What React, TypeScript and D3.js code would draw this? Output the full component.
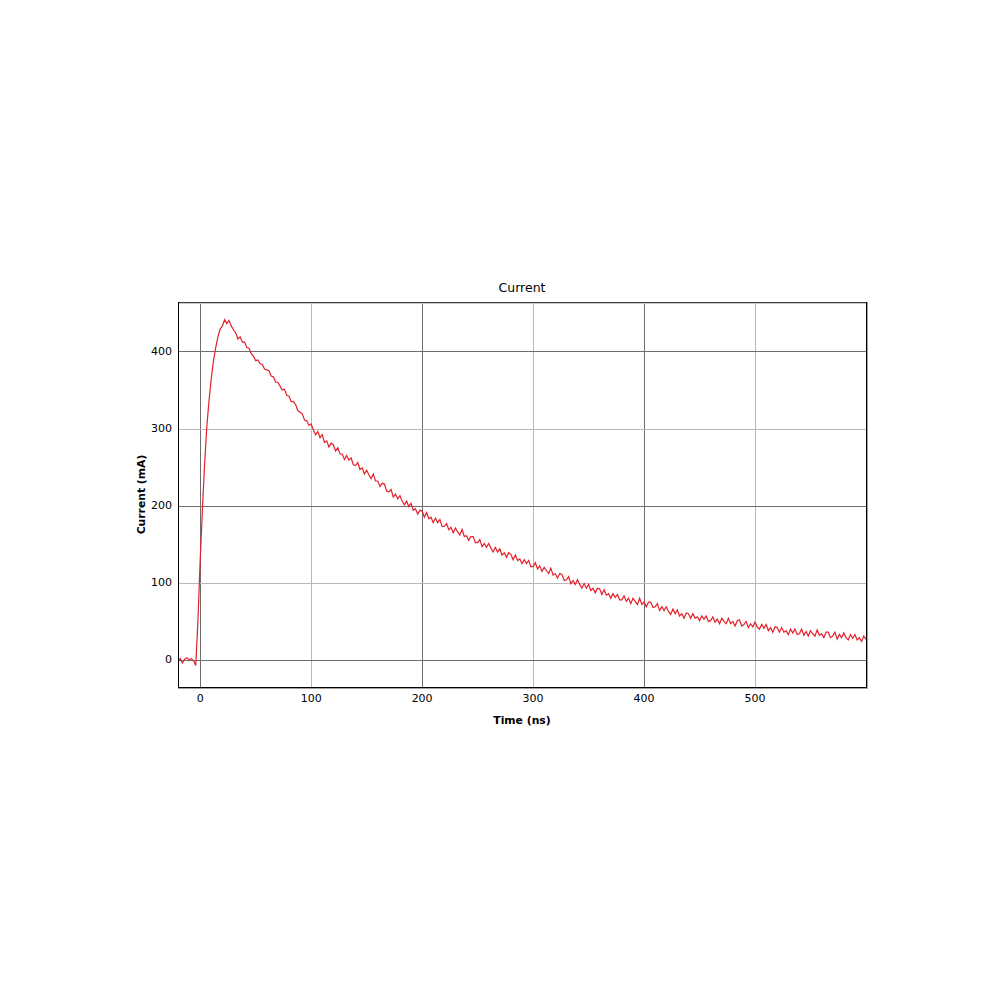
import React from "react";
import * as d3 from "d3";

// Time axis sampling (ns)
const T_START = -20;
const T_STEP = 2;

// Current (mA) read every 2 ns from -20 ns to 600 ns
const currentValues: number[] = [
  -3, 2, -4, 1, 3, 0, 2, -1, -7, 52,
  130, 195, 255, 303, 337, 365, 388, 405, 419, 429,
  433, 441, 436, 440, 433, 428, 424, 416, 419, 412,
  412, 405, 404, 397, 394, 388, 389, 384, 383, 377,
  376, 375, 368, 367, 360, 360, 355, 350, 351, 343,
  342, 335, 335, 331, 323, 321, 319, 311, 310, 304,
  306, 298, 292, 296, 288, 292, 282, 284, 276, 281,
  279, 271, 275, 267, 267, 260, 265, 259, 262, 253,
  252, 256, 247, 249, 241, 246, 240, 235, 241, 232,
  232, 225, 229, 228, 219, 218, 221, 211, 215, 209,
  213, 206, 201, 206, 199, 203, 194, 196, 189, 194,
  193, 185, 191, 183, 185, 178, 184, 178, 182, 173,
  173, 177, 169, 172, 165, 171, 166, 162, 169, 160,
  161, 155, 160, 160, 152, 152, 156, 147, 151, 146,
  151, 145, 140, 146, 140, 144, 136, 139, 133, 139,
  137, 130, 136, 129, 131, 125, 130, 125, 129, 121,
  121, 126, 118, 122, 115, 120, 116, 112, 119, 110,
  112, 106, 112, 111, 103, 104, 108, 99, 103, 98,
  104, 98, 93, 99, 93, 98, 90, 93, 87, 93,
  92, 85, 91, 84, 86, 80, 86, 81, 85, 78,
  78, 83, 76, 80, 73, 80, 76, 72, 80, 72,
  75, 69, 75, 75, 68, 69, 73, 64, 69, 64,
  69, 63, 59, 66, 60, 65, 57, 60, 54, 61,
  60, 54, 60, 54, 56, 51, 57, 53, 57, 50,
  51, 56, 49, 53, 47, 54, 50, 47, 54, 47,
  50, 44, 51, 52, 44, 46, 50, 42, 47, 43,
  49, 43, 40, 46, 41, 46, 38, 42, 36, 43,
  42, 36, 42, 36, 38, 33, 40, 35, 40, 33,
  34, 40, 32, 37, 31, 38, 34, 31, 39, 32,
  34, 29, 36, 36, 29, 31, 36, 27, 33, 29,
  35, 29, 26, 33, 28, 33, 26, 29, 24, 31,
  27,
];

const xTicks: number[] = [0, 100, 200, 300, 400, 500];
const yTicks: number[] = [0, 100, 200, 300, 400];
const majorTicks: number[] = [0, 200, 400];

const X_DOMAIN: [number, number] = [-20, 600];
const Y_DOMAIN: [number, number] = [-35, 464];

const TITLE = "Current";
const X_LABEL = "Time (ns)";
const Y_LABEL = "Current (mA)";

const FONT = "'DejaVu Sans', Verdana, sans-serif";

export default function App() {
  const left = 178;
  const right = 866;
  const top = 302;
  const bottom = 687;

  const x = d3.scaleLinear().domain(X_DOMAIN).range([left, right]);
  const y = d3.scaleLinear().domain(Y_DOMAIN).range([bottom, top]);

  const data = currentValues.map((v, i) => ({ t: T_START + i * T_STEP, v }));
  const line = d3
    .line<{ t: number; v: number }>()
    .x((d) => x(d.t))
    .y((d) => y(d.v));

  const gridColor = (v: number) => (majorTicks.includes(v) ? "#6e6e6e" : "#b8b8b8");

  return (
    <svg
      width={1000}
      height={1000}
      style={{ position: "absolute", left: 0, top: 0, background: "#fff" }}
    >
      <defs>
        <clipPath id="plotClip">
          <rect x={left} y={top} width={right - left} height={bottom - top} />
        </clipPath>
      </defs>
      <rect x={0} y={0} width={1000} height={1000} fill="#fff" />
      {/* grid */}
      {xTicks.map((t) => (
        <line
          key={"gx" + t}
          x1={Math.round(x(t)) + 0.5}
          x2={Math.round(x(t)) + 0.5}
          y1={top}
          y2={bottom}
          stroke={gridColor(t)}
          strokeWidth={1}
        />
      ))}
      {yTicks.map((t) => (
        <line
          key={"gy" + t}
          x1={left}
          x2={right}
          y1={Math.round(y(t)) + 0.5}
          y2={Math.round(y(t)) + 0.5}
          stroke={gridColor(t)}
          strokeWidth={1}
        />
      ))}
      {/* data */}
      <path
        d={line(data) || ""}
        fill="none"
        stroke="#e4202a"
        strokeWidth={1.2}
        strokeLinejoin="miter"
        clipPath="url(#plotClip)"
      />
      {/* frame */}
      <line x1={left} x2={right + 1} y1={top + 0.5} y2={top + 0.5} stroke="#404040" />
      <line x1={left} x2={right + 1} y1={top + 1.5} y2={top + 1.5} stroke="#c8c8c8" />
      <line x1={right + 0.5} x2={right + 0.5} y1={top} y2={bottom + 1} stroke="#000" />
      <line x1={right + 1.5} x2={right + 1.5} y1={top} y2={bottom + 2} stroke="#a0a0a0" />
      <line x1={left + 0.5} x2={left + 0.5} y1={top} y2={bottom + 1} stroke="#000" />
      <line x1={left} x2={right + 1} y1={bottom + 0.5} y2={bottom + 0.5} stroke="#000" />
      <line x1={left} x2={right + 2} y1={bottom + 1.5} y2={bottom + 1.5} stroke="#a0a0a0" />
      {/* tick labels */}
      {xTicks.map((t) => (
        <text
          key={"tx" + t}
          x={x(t)}
          y={702}
          textAnchor="middle"
          fontFamily={FONT}
          fontSize={11}
          fill="#000"
        >
          {t}
        </text>
      ))}
      {yTicks.map((t) => (
        <text
          key={"ty" + t}
          x={172}
          y={y(t)}
          textAnchor="end"
          dominantBaseline="central"
          fontFamily={FONT}
          fontSize={11}
          fill="#000"
        >
          {t}
        </text>
      ))}
      {/* titles */}
      <text
        x={(left + right) / 2}
        y={292}
        textAnchor="middle"
        fontFamily={FONT}
        fontSize={12.5}
        fill="#000"
      >
        {TITLE}
      </text>
      <text
        x={(left + right) / 2}
        y={724}
        textAnchor="middle"
        fontFamily={FONT}
        fontSize={10.8}
        fontWeight="bold"
        fill="#000"
      >
        {X_LABEL}
      </text>
      <text
        transform={`translate(144.5, ${(top + bottom) / 2}) rotate(-90)`}
        textAnchor="middle"
        fontFamily={FONT}
        fontSize={10.8}
        fontWeight="bold"
        fill="#000"
      >
        {Y_LABEL}
      </text>
    </svg>
  );
}
